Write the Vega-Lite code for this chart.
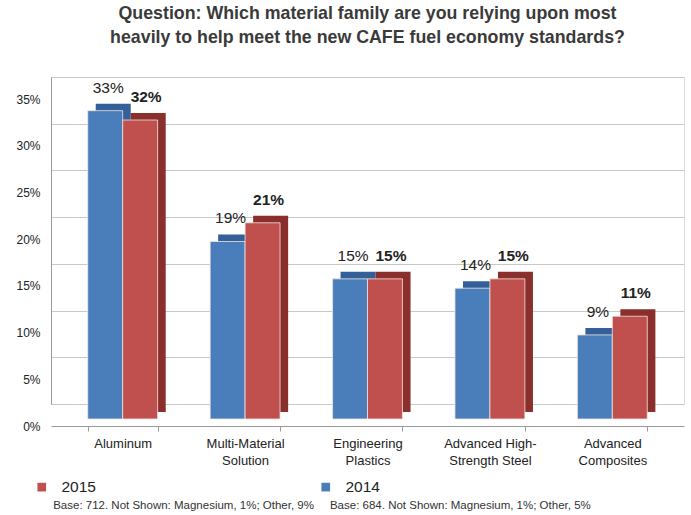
{
  "$schema": "https://vega.github.io/schema/vega-lite/v6.json",
  "width": 633,
  "height": 327,
  "padding": {"left": 15, "top": 5, "right": 5, "bottom": 5},
  "background": "white",
  "title": {
    "text": ["Question: Which material family are you relying upon most", "heavily to help meet the new CAFE fuel economy standards?"],
    "fontSize": 17.8,
    "font": "Liberation Sans",
    "fontWeight": "bold",
    "color": "#3a3a3a",
    "lineHeight": 24,
    "anchor": "middle",
    "offset": 30
  },
  "data": {
    "values": [
      {"category": "Aluminum", "year": "2014", "value": 33},
      {"category": "Aluminum", "year": "2015", "value": 32},
      {"category": "Multi-Material|Solution", "year": "2014", "value": 19},
      {"category": "Multi-Material|Solution", "year": "2015", "value": 21},
      {"category": "Engineering|Plastics", "year": "2014", "value": 15},
      {"category": "Engineering|Plastics", "year": "2015", "value": 15},
      {"category": "Advanced High-|Strength Steel", "year": "2014", "value": 14},
      {"category": "Advanced High-|Strength Steel", "year": "2015", "value": 15},
      {"category": "Advanced|Composites", "year": "2014", "value": 9},
      {"category": "Advanced|Composites", "year": "2015", "value": 11}
    ]
  },
  "encoding": {
    "x": {
      "field": "category",
      "type": "nominal",
      "sort": null,
      "scale": {"paddingInner": 0.429, "paddingOuter": 0.3},
      "axis": {
        "title": null,
        "offset": 22,
        "labelAngle": 0,
        "labelExpr": "split(datum.label, '|')",
        "labelFont": "Liberation Sans",
        "labelFontSize": 13,
        "labelColor": "#222",
        "labelLineHeight": 17,
        "labelPadding": 6,
        "tickBand": "extent",
        "tickColor": "#999",
        "tickSize": 5,
        "domainColor": "#999"
      }
    },
    "y": {
      "field": "value",
      "type": "quantitative",
      "scale": {"domain": [0, 35]},
      "axis": {
        "title": null,
        "values": [0, 5, 10, 15, 20, 25, 30, 35],
        "labelExpr": "datum.value + '%'",
        "labelFont": "Liberation Sans",
        "labelFontSize": 12,
        "labelColor": "#222",
        "labelOffset": 22,
        "gridColor": "#c8c8c8",
        "ticks": false,
        "domainColor": "#999",
        "labelPadding": 11
      }
    }
  },
  "resolve": {"scale": {"xOffset": "independent"}},
  "layer": [
    {
      "mark": {"type": "bar", "yOffset": 8, "y2Offset": 8},
      "encoding": {
        "xOffset": {"field": "year", "type": "nominal", "sort": ["2014", "2015"], "scale": {"range": [8, 78]}},
        "color": {
          "condition": {"test": "datum.year == '2015'", "value": "#8a2f2c"},
          "value": "#34609a"
        }
      }
    },
    {
      "mark": {"type": "bar", "stroke": "#f3e4e4", "strokeWidth": 0.8, "yOffset": 15, "y2Offset": 15},
      "encoding": {
        "xOffset": {"field": "year", "type": "nominal", "sort": ["2014", "2015"]},
        "color": {
          "field": "year",
          "type": "nominal",
          "scale": {"domain": ["2015", "2014"], "range": ["#c0504d", "#4a7ebb"]},
          "legend": {
            "orient": "none",
            "legendX": -17,
            "legendY": 402,
            "direction": "horizontal",
            "title": "\u200b\u00a0\u00a0\u00a0\u00a0\u00a0\u00a0Base: 712. Not Shown: Magnesium, 1%; Other, 9%\u00a0\u00a0\u00a0\u00a0\u00a0Base: 684. Not Shown: Magnesium, 1%; Other, 5%",
            "titleOrient": "bottom",
            "titleAnchor": "start",
            "titleFont": "Liberation Sans",
            "titleFontSize": 11.5,
            "titleFontWeight": "normal",
            "titleColor": "#333",
            "titlePadding": 4,
            "titleLimit": 700,
            "labelFont": "Liberation Sans",
            "labelFontSize": 15.5,
            "labelColor": "#222",
            "symbolType": "square",
            "symbolSize": 75,
            "symbolStrokeWidth": 0,
            "columnPadding": 222,
            "labelOffset": 12
          }
        }
      }
    },
    {
      "transform": [{"filter": "datum.year == '2014'"}, {"calculate": "datum.value + '%'", "as": "label"}],
      "mark": {"type": "text", "baseline": "bottom", "dy": 0, "dx": 3, "font": "Liberation Sans", "fontSize": 15.5, "color": "#222"},
      "encoding": {
        "xOffset": {"datum": "2014", "type": "nominal", "scale": {"domain": ["2014", "2015"]}},
        "text": {"field": "label", "type": "nominal"}
      }
    },
    {
      "transform": [{"filter": "datum.year == '2015'"}, {"calculate": "datum.value + '%'", "as": "label"}],
      "mark": {"type": "text", "baseline": "bottom", "dy": 0, "dx": 6, "font": "Liberation Sans", "fontSize": 15.5, "fontWeight": "bold", "color": "#222"},
      "encoding": {
        "xOffset": {"datum": "2015", "type": "nominal", "scale": {"domain": ["2014", "2015"]}},
        "text": {"field": "label", "type": "nominal"}
      }
    }
  ]
}
